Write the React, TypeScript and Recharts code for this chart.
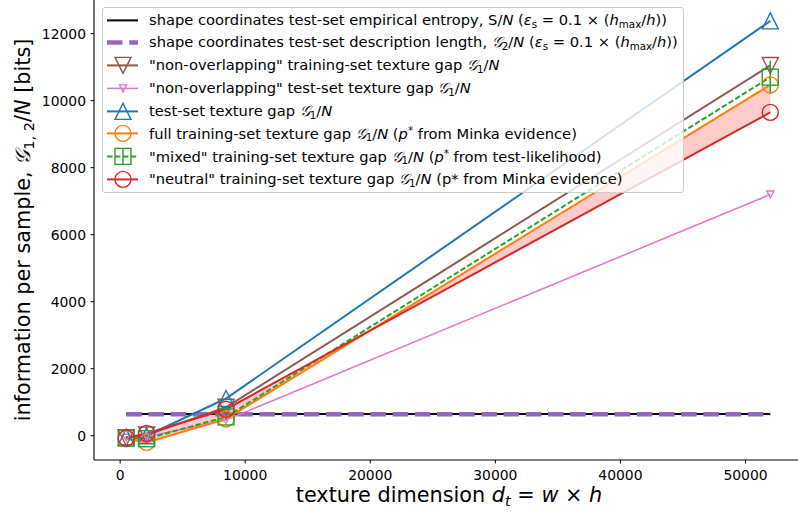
import React from "react";
import { ComposedChart, Line, Area, XAxis, YAxis, ErrorBar } from "recharts";

// texture dimension d_t = w x h
const dims = [484, 2116, 8464, 51984];
const entropyS = [645, 645, 645, 645];
const descLenG2 = [640, 640, 640, 640];
const nonOverlapTrain = [-60, 20, 850, 11050];
const nonOverlapTest = [-60, -30, 470, 7200];
const testGap = [-40, 0, 1110, 12380];
const fullTrain = [-90, -200, 500, 10470];
const mixedTrain = [-70, -90, 560, 10700];
const mixedErr = [40, 40, 60, 500];
const neutralTrain = [-70, 70, 790, 9650];

const xTicks = [0, 10000, 20000, 30000, 40000, 50000];
const yTicks = [0, 2000, 4000, 6000, 8000, 10000, 12000];

const data = dims.map((d, i) => ({
  dim: d,
  entropy: entropyS[i],
  descLen: descLenG2[i],
  nonOverlapTrain: nonOverlapTrain[i],
  nonOverlapTest: nonOverlapTest[i],
  testGap: testGap[i],
  fullTrain: fullTrain[i],
  mixedTrain: mixedTrain[i],
  mixedErr: mixedErr[i],
  neutralTrain: neutralTrain[i],
  band: [neutralTrain[i], fullTrain[i]],
}));

const C = {
  black: "#000000",
  purple: "#9467bd",
  brown: "#8c564b",
  pink: "#e377c2",
  blue: "#1f77b4",
  orange: "#ff7f0e",
  green: "#2ca02c",
  red: "#d62728",
};

const FONT = "'DejaVu Sans', sans-serif";
const CAL_G = "\u{1D4A2}";

type Shape = "tri-down" | "tri-up" | "circle" | "square";

function Marker({ shape, x, y, size, color }: { shape: Shape; x: number; y: number; size: number; color: string }) {
  const h = size / 2;
  const common = { fill: "none", stroke: color, strokeWidth: 1.4 };
  if (shape === "tri-down") return <polygon points={`${x},${y + h} ${x - h},${y - h} ${x + h},${y - h}`} {...common} />;
  if (shape === "tri-up") return <polygon points={`${x},${y - h} ${x - h},${y + h} ${x + h},${y + h}`} {...common} />;
  if (shape === "square") return <rect x={x - h} y={y - h} width={size} height={size} {...common} />;
  return <circle cx={x} cy={y} r={h} {...common} />;
}

const dotOf = (shape: Shape, size: number, color: string) => (p: any) => (
  <g key={`${shape}-${color}-${p.index}`}>
    {p.cx != null && p.cy != null && <Marker shape={shape} x={p.cx} y={p.cy} size={size} color={color} />}
  </g>
);

const sub = { fontSize: "70%", verticalAlign: "-0.25em" } as const;
const sup = { fontSize: "70%", verticalAlign: "0.45em" } as const;
const G = () => <i>{CAL_G}</i>;
const Eps = () => (
  <>
    (<i>ε</i><span style={sub}>s</span> = 0.1 × (<i>h</i><span style={sub}>max</span>/<i>h</i>))
  </>
);
const G1N = () => (
  <>
    <G /><span style={sub}>1</span>/<i>N</i>
  </>
);

type Item = { color: string; width: number; dash?: string; shape?: Shape; size?: number; err?: boolean; label: React.ReactNode };

const legendItems: Item[] = [
  { color: C.black, width: 2, label: <>shape coordinates test-set empirical entropy, S/<i>N</i> <Eps /></> },
  { color: C.purple, width: 4.5, dash: "15.5 6.7", label: <>shape coordinates test-set description length, <G /><span style={sub}>2</span>/<i>N</i> <Eps /></> },
  { color: C.brown, width: 2, shape: "tri-down", size: 16, label: <>"non-overlapping" training-set texture gap <G1N /></> },
  { color: C.pink, width: 1.5, shape: "tri-down", size: 7, label: <>"non-overlapping" test-set texture gap <G1N /></> },
  { color: C.blue, width: 2, shape: "tri-up", size: 16, label: <>test-set texture gap <G1N /></> },
  { color: C.orange, width: 2, shape: "circle", size: 16, label: <>full training-set texture gap <G1N /> (<i>p</i><span style={sup}>*</span> from Minka evidence)</> },
  { color: C.green, width: 2, dash: "5.5 2.4", shape: "square", size: 16, err: true, label: <>"mixed" training-set texture gap <G1N /> (<i>p</i><span style={sup}>*</span> from test-likelihood)</> },
  { color: C.red, width: 2, shape: "circle", size: 16, label: <>"neutral" training-set texture gap <G1N /> (p* from Minka evidence)</> },
];

function LegendBox() {
  return (
    <div
      style={{
        position: "absolute",
        left: 102,
        top: 7,
        width: 582,
        height: 186,
        boxSizing: "border-box",
        border: "1px solid #cccccc",
        borderRadius: 3,
        background: "rgba(255,255,255,0.8)",
        paddingTop: 0.5,
        fontFamily: FONT,
        fontSize: 14.7,
        color: "#000",
      }}
    >
      {legendItems.map((it, i) => (
        <div key={i} style={{ height: 22.8, display: "flex", alignItems: "center", whiteSpace: "nowrap" }}>
          <svg width={46} height={22.8} style={{ flex: "none" }}>
            <line x1={4} x2={35} y1={11.4} y2={11.4} stroke={it.color} strokeWidth={it.width} strokeDasharray={it.dash} />
            {it.err && <line x1={20} x2={20} y1={3.4} y2={19.4} stroke={it.color} strokeWidth={1.5} />}
            {it.shape && <Marker shape={it.shape} x={20} y={11.4} size={it.size || 16} color={it.color} />}
          </svg>
          <span>{it.label}</span>
        </div>
      ))}
    </div>
  );
}

const XLabel = () => (
  <text x={449} y={502} textAnchor="middle" fontFamily={FONT} fontSize={20.8} fill="#000">
    texture dimension <tspan fontStyle="italic">d</tspan>
    <tspan fontStyle="italic" fontSize={14.5} dy={4}>t</tspan>
    <tspan dy={-4}> = </tspan>
    <tspan fontStyle="italic">w</tspan> × <tspan fontStyle="italic">h</tspan>
  </text>
);

const YLabel = () => (
  <text transform="rotate(-90)" x={-230} y={30} textAnchor="middle" fontFamily={FONT} fontSize={20.8} fill="#000">
    information per sample, <tspan fontStyle="italic">{CAL_G}</tspan>
    <tspan fontSize={14.5} dy={4}>1, 2</tspan>
    <tspan dy={-4}>/</tspan>
    <tspan fontStyle="italic">N</tspan> [bits]
  </text>
);

export default function App() {
  return (
    <div style={{ position: "absolute", left: 0, top: 0, width: 798, height: 512, fontFamily: FONT, background: "#fff" }}>
      <ComposedChart width={798} height={512} data={data} margin={{ top: 0, right: -4.5, bottom: 0, left: 0 }}>
        <XAxis
          type="number"
          dataKey="dim"
          domain={[-2091, 54559]}
          ticks={xTicks}
          allowDataOverflow
          height={52}
          tickSize={3.5}
          tickMargin={6.5}
          tick={{ fontSize: 13.9, fill: "#000", fontFamily: FONT }}
          tickLine={{ stroke: "#000" }}
          axisLine={{ stroke: "#000", strokeWidth: 1.1 }}
          label={{ content: XLabel }}
        />
        <YAxis
          type="number"
          domain={[-725, 13004]}
          ticks={yTicks}
          allowDataOverflow
          width={94}
          tickSize={3.5}
          tickMargin={4.5}
          tick={{ fontSize: 13.9, fill: "#000", fontFamily: FONT }}
          tickLine={{ stroke: "#000" }}
          axisLine={{ stroke: "#000", strokeWidth: 1.1 }}
          label={{ content: YLabel }}
        />
        <Area dataKey="band" type="linear" stroke="none" fill="#ff0000" fillOpacity={0.2} dot={false} activeDot={false} isAnimationActive={false} />
        <Line dataKey="entropy" type="linear" stroke={C.black} strokeWidth={2} dot={false} isAnimationActive={false} />
        <Line dataKey="descLen" type="linear" stroke={C.purple} strokeWidth={4.5} strokeDasharray="15.5 6.7" dot={false} isAnimationActive={false} />
        <Line dataKey="nonOverlapTrain" type="linear" stroke={C.brown} strokeWidth={2} dot={dotOf("tri-down", 16, C.brown)} isAnimationActive={false} />
        <Line dataKey="nonOverlapTest" type="linear" stroke={C.pink} strokeWidth={1.5} dot={dotOf("tri-down", 7, C.pink)} isAnimationActive={false} />
        <Line dataKey="testGap" type="linear" stroke={C.blue} strokeWidth={2} dot={dotOf("tri-up", 16, C.blue)} isAnimationActive={false} />
        <Line dataKey="fullTrain" type="linear" stroke={C.orange} strokeWidth={2} dot={dotOf("circle", 16, C.orange)} isAnimationActive={false} />
        <Line dataKey="mixedTrain" type="linear" stroke={C.green} strokeWidth={2} strokeDasharray="5.5 2.4" dot={dotOf("square", 16, C.green)} isAnimationActive={false}>
          <ErrorBar dataKey="mixedErr" direction="y" width={0} stroke={C.green} strokeWidth={1.5} isAnimationActive={false} />
        </Line>
        <Line dataKey="neutralTrain" type="linear" stroke={C.red} strokeWidth={2} dot={dotOf("circle", 16, C.red)} isAnimationActive={false} />
      </ComposedChart>
      <LegendBox />
    </div>
  );
}
